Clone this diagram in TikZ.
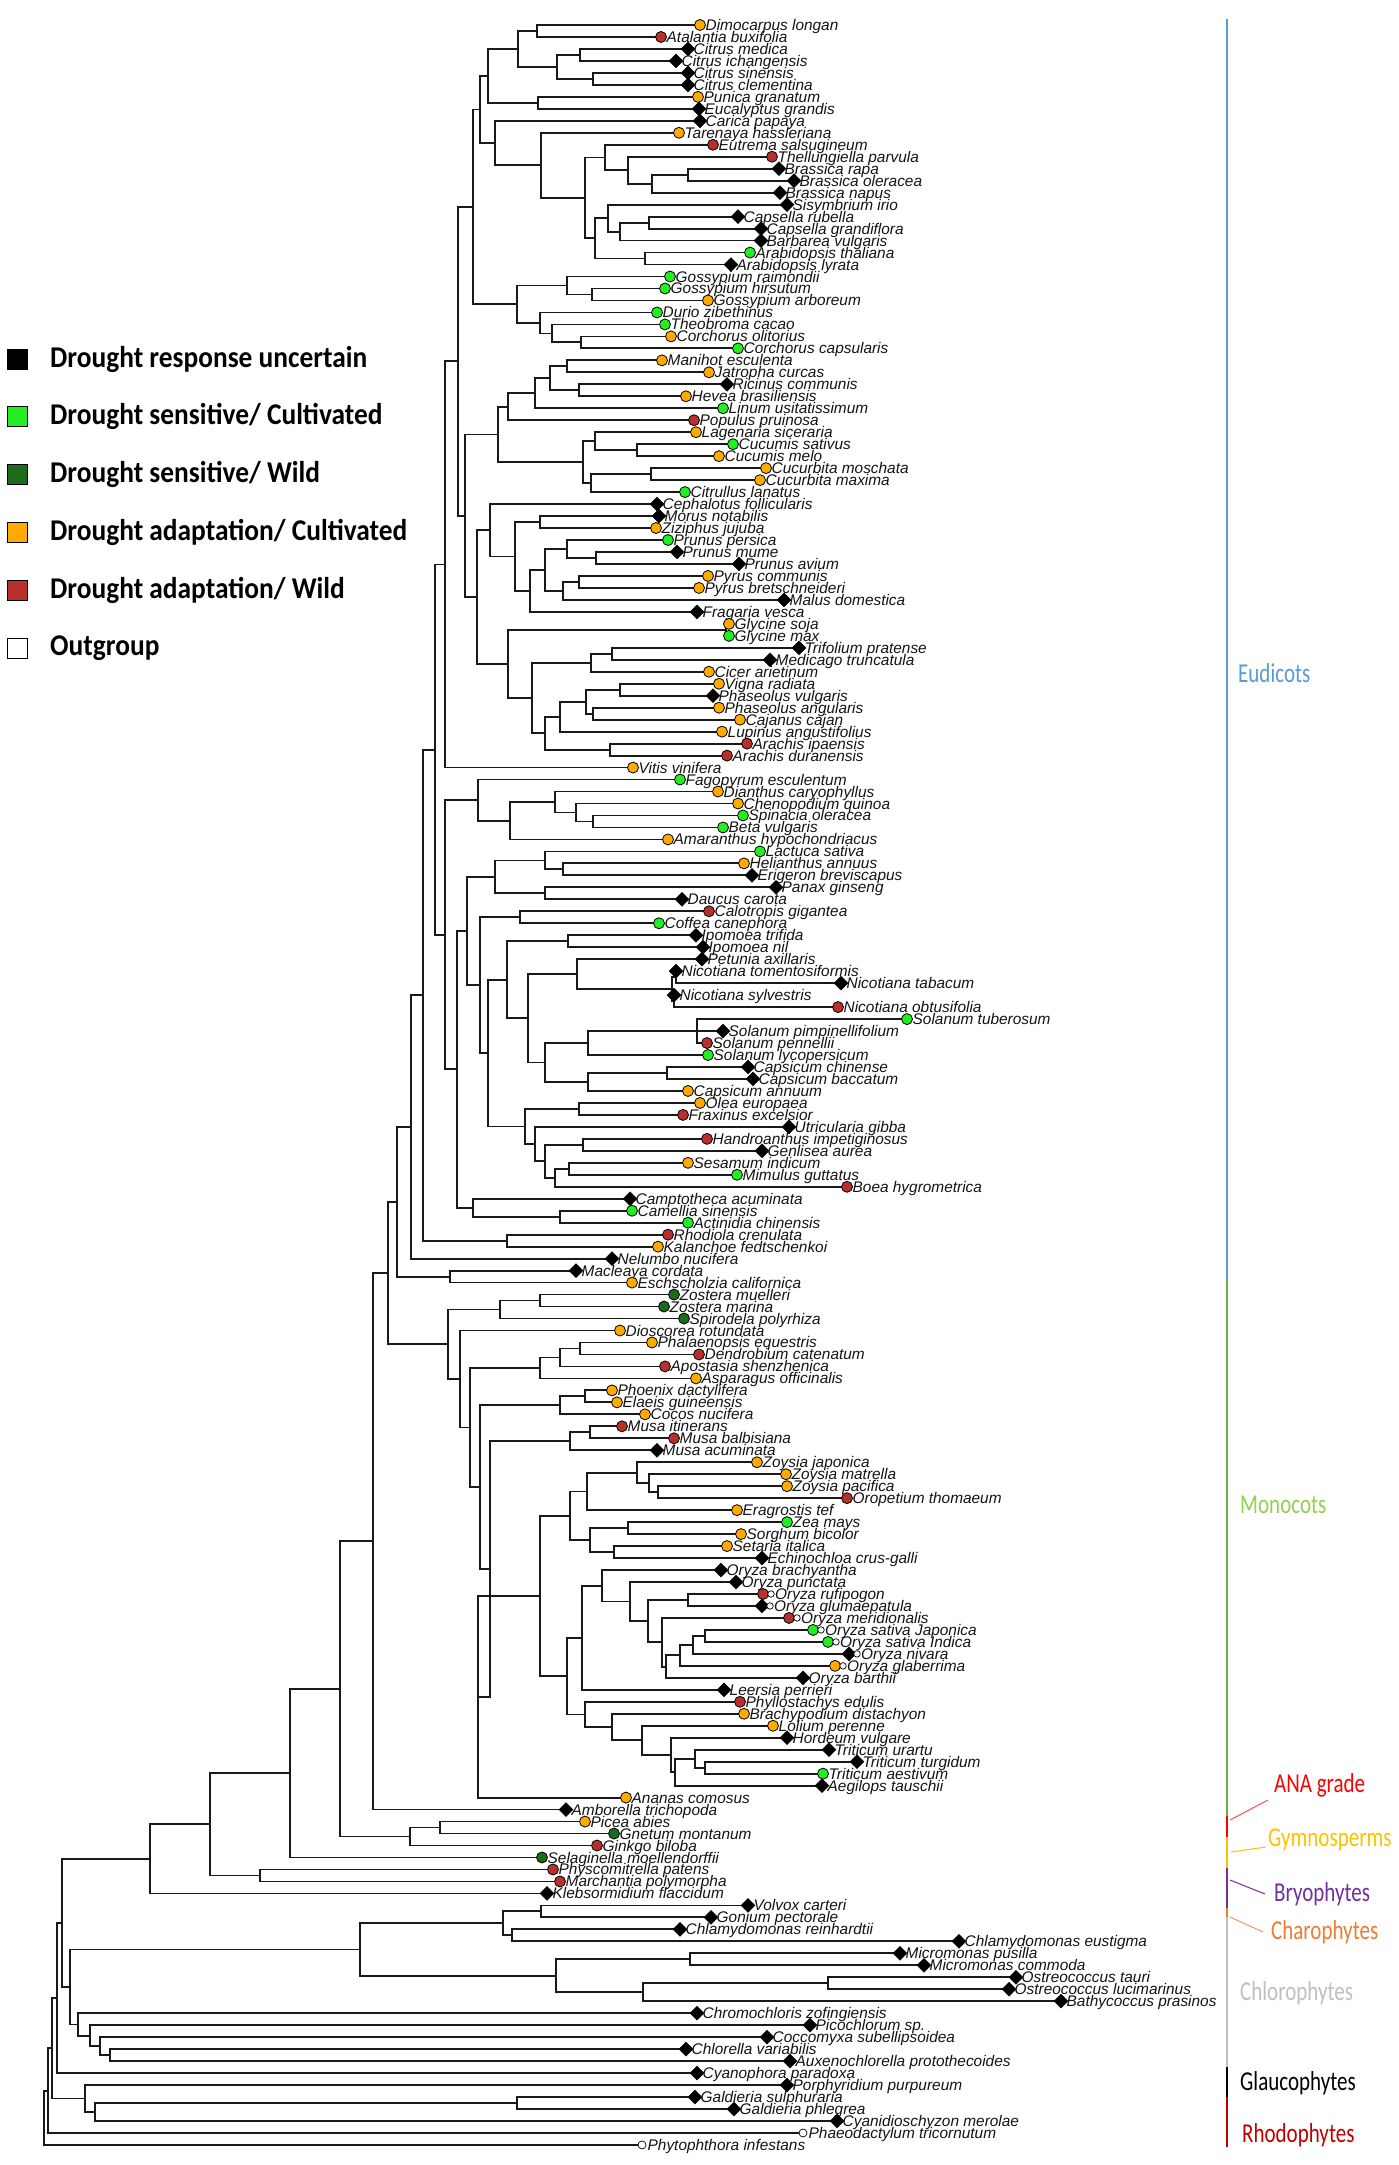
\documentclass[tikz,border=0pt]{standalone}
\usepackage{fontspec}
\usepackage{graphicx}
\usetikzlibrary{calc,shapes.geometric}
\newfontfamily\leaffont{Liberation Sans}
\newfontfamily\calib{Carlito}
\definecolor{cG}{HTML}{22EE22}
\definecolor{cD}{HTML}{1B6B1B}
\definecolor{cO}{HTML}{FFAA00}
\definecolor{cR}{HTML}{B8302B}
\definecolor{eud}{HTML}{5B9BD5}
\definecolor{monl}{HTML}{70AD47}
\definecolor{mont}{HTML}{92D050}
\definecolor{gym}{HTML}{FFC000}
\definecolor{bry}{HTML}{7030A0}
\definecolor{cha}{HTML}{ED7D31}
\definecolor{chl}{HTML}{BFBFBF}
\definecolor{rho}{HTML}{C00000}
\definecolor{ana}{HTML}{FF0000}
\tikzset{
 br/.style={line width=1.8pt, draw=black!90},
 mkb/.style={diamond, draw=black, fill=black, inner sep=0pt, minimum width=14pt, minimum height=14pt, line width=0.5pt},
 mkc/.style={circle, draw=black, inner sep=0pt, minimum size=11pt, line width=0.8pt},
 mkw/.style={circle, draw=black, fill=white, inner sep=0pt, minimum size=6.5pt, line width=0.7pt},
 lab/.style={anchor=base west, inner sep=0pt, font=\leaffont\itshape\fontsize{15.4}{16}\selectfont, text=black!92},
 legsq/.style={draw=black, line width=0.8pt, minimum size=20pt, inner sep=0pt},
 legtx/.style={anchor=west, inner sep=0pt, font=\calib\bfseries\fontsize{27.4}{30}\selectfont},
 grp/.style={anchor=west, inner sep=0pt, font=\calib\fontsize{21}{24}\selectfont},
 bar/.style={line width=2.2pt},
 lead/.style={line width=1pt},
}
\newcommand\mkclade[4]{%
  \coordinate (tmpm) at ($(#3)!0.5!(#4)$);%
  \coordinate (#1) at (#2,0 |- tmpm);%
  \draw[br] (#1) |- (#3);%
  \draw[br] (#1) |- (#4);}
\newcommand\mkcladeT[5]{%
  \coordinate (tmpm) at ($0.3333*(#3)+0.3333*(#4)+0.3334*(#5)$);%
  \coordinate (#1) at (#2,0 |- tmpm);%
  \draw[br] (#1) |- (#3);%
  \draw[br] (#1) |- (#4);%
  \draw[br] (#1) |- (#5);}
\def\leaflist{Dimocarpus longan/700/3,
Atalantia buxifolia/661/4,
Citrus medica/688/0,
Citrus ichangensis/676/0,
Citrus sinensis/688/0,
Citrus clementina/688/0,
Punica granatum/698/3,
Eucalyptus grandis/699/0,
Carica papaya/700/0,
Tarenaya hassleriana/679/3,
Eutrema salsugineum/713/4,
Thellungiella parvula/772/4,
Brassica rapa/779/0,
Brassica oleracea/794/0,
Brassica napus/780/0,
Sisymbrium irio/787/0,
Capsella rubella/738/0,
Capsella grandiflora/761/0,
Barbarea vulgaris/761/0,
Arabidopsis thaliana/750/1,
Arabidopsis lyrata/731/0,
Gossypium raimondii/670/1,
Gossypium hirsutum/665/1,
Gossypium arboreum/708/3,
Durio zibethinus/657/1,
Theobroma cacao/665/1,
Corchorus olitorius/671/3,
Corchorus capsularis/738/1,
Manihot esculenta/662/3,
Jatropha curcas/709/3,
Ricinus communis/727/0,
Hevea brasiliensis/686/3,
Linum usitatissimum/723/1,
Populus pruinosa/694/4,
Lagenaria siceraria/696/3,
Cucumis sativus/733/1,
Cucumis melo/719/3,
Cucurbita moschata/766/3,
Cucurbita maxima/760/3,
Citrullus lanatus/685/1,
Cephalotus follicularis/657/0,
Morus notabilis/659/0,
Ziziphus jujuba/656/3,
Prunus persica/668/1,
Prunus mume/677/0,
Prunus avium/739/0,
Pyrus communis/708/3,
Pyrus bretschneideri/699/3,
Malus domestica/784/0,
Fragaria vesca/697/0,
Glycine soja/729/3,
Glycine max/729/1,
Trifolium pratense/799/0,
Medicago truncatula/770/0,
Cicer arietinum/709/3,
Vigna radiata/719/3,
Phaseolus vulgaris/713/0,
Phaseolus angularis/719/3,
Cajanus cajan/740/3,
Lupinus angustifolius/722/3,
Arachis ipaensis/747/4,
Arachis duranensis/727/4,
Vitis vinifera/633/3,
Fagopyrum esculentum/680/1,
Dianthus caryophyllus/718/3,
Chenopodium quinoa/738/3,
Spinacia oleracea/743/1,
Beta vulgaris/723/1,
Amaranthus hypochondriacus/668/3,
Lactuca sativa/760/1,
Helianthus annuus/744/3,
Erigeron breviscapus/752/0,
Panax ginseng/776/0,
Daucus carota/682/0,
Calotropis gigantea/709/4,
Coffea canephora/659/1,
Ipomoea trifida/696/0,
Ipomoea nil/703/0,
Petunia axillaris/702/0,
Nicotiana tomentosiformis/676/0,
Nicotiana tabacum/841/0,
Nicotiana sylvestris/674/0,
Nicotiana obtusifolia/838/4,
Solanum tuberosum/907/1,
Solanum pimpinellifolium/723/0,
Solanum pennellii/707/4,
Solanum lycopersicum/708/1,
Capsicum chinense/748/0,
Capsicum baccatum/753/0,
Capsicum annuum/688/3,
Olea europaea/700/3,
Fraxinus excelsior/683/4,
Utricularia gibba/789/0,
Handroanthus impetiginosus/707/4,
Genlisea aurea/762/0,
Sesamum indicum/688/3,
Mimulus guttatus/737/1,
Boea hygrometrica/847/4,
Camptotheca acuminata/630/0,
Camellia sinensis/632/1,
Actinidia chinensis/688/1,
Rhodiola crenulata/668/4,
Kalanchoe fedtschenkoi/658/3,
Nelumbo nucifera/612/0,
Macleaya cordata/576/0,
Eschscholzia californica/632/3,
Zostera muelleri/674/2,
Zostera marina/664/2,
Spirodela polyrhiza/684/2,
Dioscorea rotundata/620/3,
Phalaenopsis equestris/652/3,
Dendrobium catenatum/699/4,
Apostasia shenzhenica/665/4,
Asparagus officinalis/696/3,
Phoenix dactylifera/612/3,
Elaeis guineensis/617/3,
Cocos nucifera/645/3,
Musa itinerans/622/4,
Musa balbisiana/674/4,
Musa acuminata/657/0,
Zoysia japonica/757/3,
Zoysia matrella/786/3,
Zoysia pacifica/787/3,
Oropetium thomaeum/847/4,
Eragrostis tef/737/3,
Zea mays/787/1,
Sorghum bicolor/741/3,
Setaria italica/727/3,
Echinochloa crus-galli/762/0,
Oryza brachyantha/721/0,
Oryza punctata/736/0,
Oryza rufipogon/763/6,
Oryza glumaepatula/762/7,
Oryza meridionalis/789/6,
Oryza sativa Japonica/813/8,
Oryza sativa Indica/828/8,
Oryza nivara/849/7,
Oryza glaberrima/835/9,
Oryza barthii/803/0,
Leersia perrieri/724/0,
Phyllostachys edulis/740/4,
Brachypodium distachyon/744/3,
Lolium perenne/773/3,
Hordeum vulgare/787/0,
Triticum urartu/829/0,
Triticum turgidum/857/0,
Triticum aestivum/823/1,
Aegilops tauschii/822/0,
Ananas comosus/626/3,
Amborella trichopoda/566/0,
Picea abies/585/3,
Gnetum montanum/614/2,
Ginkgo biloba/597/4,
Selaginella moellendorffii/542/2,
Physcomitrella patens/553/4,
Marchantia polymorpha/560/4,
Klebsormidium flaccidum/547/0,
Volvox carteri/748/0,
Gonium pectorale/711/0,
Chlamydomonas reinhardtii/680/0,
Chlamydomonas eustigma/959/0,
Micromonas pusilla/900/0,
Micromonas commoda/924/0,
Ostreococcus tauri/1016/0,
Ostreococcus lucimarinus/1009/0,
Bathycoccus prasinos/1061/0,
Chromochloris zofingiensis/697/0,
Picochlorum sp./810/0,
Coccomyxa subellipsoidea/767/0,
Chlorella variabilis/686/0,
Auxenochlorella protothecoides/790/0,
Cyanophora paradoxa/697/0,
Porphyridium purpureum/787/0,
Galdieria sulphuraria/695/0,
Galdieria phlegrea/734/0,
Cyanidioschyzon merolae/837/0,
Phaeodactylum tricornutum/803/5,
Phytophthora infestans/642/5}
\begin{document}
\begin{tikzpicture}[x=1pt,y=-1pt]
\fill[white] (0,0) rectangle (1399,2165);
\useasboundingbox (0,0) rectangle (1399,2165);
% leaf positions
\foreach \nm/\xx/\cc [count=\i] in \leaflist {
  \coordinate (l\i) at (\xx,{13.02+11.977*\i});
}
% ---- rosids: malvids
\mkclade{n1}{580}{l3}{l4}
\mkclade{n2}{593}{l5}{l6}
\mkclade{n3}{557}{n1}{n2}
\mkclade{n4}{537}{l1}{l2}
\mkclade{n5}{518}{n4}{n3}
\mkclade{n6}{538}{l7}{l8}
\mkclade{n7}{688}{l13}{l14}
\mkclade{n8}{652}{n7}{l15}
\mkclade{n9}{628}{l12}{n8}
\mkclade{n10}{605}{l11}{n9}
\mkclade{n11}{649}{l17}{l18}
\mkclade{n12}{620}{n11}{l19}
\mkclade{n13}{608}{l16}{n12}
\mkclade{n14}{645}{l20}{l21}
\mkclade{n15}{595}{n13}{n14}
\mkclade{n16}{585}{n10}{n15}
\mkclade{n17}{541}{l10}{n16}
\mkclade{n18}{495}{l9}{n17}
\mkclade{n19}{592}{l23}{l24}
\mkclade{n20}{567}{l22}{n19}
\mkclade{n21}{581}{l27}{l28}
\mkclade{n22}{552}{l26}{n21}
\mkclade{n23}{540}{l25}{n22}
\mkclade{n24}{517}{n20}{n23}
\mkclade{n25}{488}{n5}{n6}
\mkclade{n26}{480}{n25}{n18}
\mkclade{n27}{473}{n26}{n24}
% ---- fabids
\mkclade{n28}{567}{l29}{l30}
\mkclade{n29}{579}{l31}{l32}
\mkclade{n30}{550}{n28}{n29}
\mkclade{n31}{535}{n30}{l33}
\mkclade{n32}{508}{n31}{l34}
\mkclade{n33}{637}{l36}{l37}
\mkclade{n34}{595}{l35}{n33}
\mkclade{n35}{651}{l38}{l39}
\mkclade{n36}{591}{n35}{l40}
\mkclade{n37}{583}{n34}{n36}
\mkclade{n38}{596}{l45}{l46}
\mkclade{n39}{567}{l44}{n38}
\mkclade{n40}{579}{l47}{l48}
\mkclade{n41}{563}{n40}{l49}
\mkclade{n42}{545}{n39}{n41}
\mkclade{n43}{530}{n42}{l50}
\mkclade{n44}{540}{l42}{l43}
\mkclade{n45}{515}{n44}{n43}
\mkclade{n46}{490}{l41}{n45}
\mkclade{n47}{498}{n32}{n37}
\mkclade{n48}{726}{l51}{l52}
\mkclade{n49}{612}{l53}{l54}
\mkclade{n50}{591}{n49}{l55}
\mkclade{n51}{620}{l56}{l57}
\mkclade{n52}{593}{l58}{l59}
\mkclade{n53}{586}{n51}{n52}
\mkclade{n54}{610}{l61}{l62}
\mkclade{n55}{560}{n53}{l60}
\mkclade{n56}{545}{n55}{n54}
\mkclade{n57}{532}{n50}{n56}
\mkclade{n58}{508}{n48}{n57}
\mkclade{n60}{477}{n46}{n58}
\mkclade{n61}{465}{n47}{n60}
\mkclade{n62}{458}{n27}{n61}
\mkclade{n63}{445}{n62}{l63}
% ---- Caryophyllales + asterids
\mkclade{n64}{593}{l67}{l68}
\mkclade{n65}{576}{l66}{n64}
\mkclade{n66}{555}{l65}{n65}
\mkclade{n67}{510}{n66}{l69}
\mkclade{n68}{478}{l64}{n67}
\mkclade{n69}{563}{l71}{l72}
\mkclade{n70}{545}{l70}{n69}
\mkclade{n71}{545}{l73}{l74}
\mkclade{n72}{495}{n70}{n71}
\mkclade{n73}{520}{l75}{l76}
\mkclade{n74}{568}{l77}{l78}
\mkclade{n75}{676}{l80}{l81}
\mkclade{n76}{674}{l82}{l83}
\mkclade{n77}{672}{n75}{n76}
\mkclade{n78}{577}{l79}{n77}
\mkcladeT{n79}{697}{l84}{l85}{l86}
\mkclade{n80}{588}{n79}{l87}
\mkclade{n81}{667}{l88}{l89}
\mkclade{n82}{588}{n81}{l90}
\mkclade{n83}{545}{n80}{n82}
\mkclade{n84}{528}{n78}{n83}
\mkclade{n85}{507}{n74}{n84}
\mkclade{n86}{579}{l91}{l92}
\mkclade{n87}{583}{l94}{l95}
\mkclade{n88}{569}{l96}{l97}
\mkclade{n89}{555}{n88}{l98}
\mkclade{n90}{545}{n87}{n89}
\mkclade{n91}{535}{l93}{n90}
\mkclade{n92}{525}{n86}{n91}
\mkclade{n93}{488}{n85}{n92}
\mkclade{n94}{480}{n73}{n93}
\mkclade{n95}{467}{n72}{n94}
\mkclade{n96}{560}{l100}{l101}
\mkclade{n97}{473}{l99}{n96}
\mkclade{n98}{457}{n95}{n97}
\mkclade{n99}{445}{n68}{n98}
\mkclade{n100}{435}{n63}{n99}
\mkclade{n101}{507}{l102}{l103}
\mkclade{n102}{423}{n100}{n101}
\mkclade{n103}{411}{n102}{l104}
\mkclade{n104}{450}{l105}{l106}
\mkclade{n105}{397}{n103}{n104}
% ---- monocots
\mkclade{m1}{540}{l107}{l108}
\mkclade{m2}{500}{m1}{l109}
\mkclade{m3}{580}{l111}{l112}
\mkclade{m4}{560}{m3}{l113}
\mkclade{m5}{540}{m4}{l114}
\mkclade{m6}{585}{l115}{l116}
\mkclade{m7}{560}{m6}{l117}
\mkclade{m8}{590}{l118}{l119}
\mkclade{m9}{570}{m8}{l120}
\mkclade{z1}{658}{l123}{l124}
\mkclade{z2}{649}{l122}{z1}
\mkclade{z3}{637}{l121}{z2}
\mkclade{z4}{587}{z3}{l125}
\mkclade{p1}{628}{l126}{l127}
\mkclade{p2}{614}{l128}{l129}
\mkclade{p3}{590}{p1}{p2}
\mkclade{p4}{570}{z4}{p3}
\mkclade{o1}{688}{l132}{l133}
\mkclade{o2}{705}{l135}{l136}
\mkclade{o3}{693}{o2}{l137}
\mkclade{o4}{680}{o3}{l138}
\mkclade{o5}{666}{o4}{l139}
\mkclade{o6}{662}{l134}{o5}
\mkclade{o7}{648}{o1}{o6}
\mkclade{o8}{630}{l131}{o7}
\mkclade{o9}{602}{l130}{o8}
\mkclade{o10}{582}{o9}{l140}
\mkclade{t1}{705}{l146}{l147}
\mkclade{t2}{695}{l145}{t1}
\mkclade{t3}{675}{t2}{l148}
\mkclade{t4}{671}{l144}{t3}
\mkclade{t5}{642}{l143}{t4}
\mkclade{t6}{612}{l142}{t5}
\mkclade{t7}{585}{l141}{t6}
\mkclade{b1}{567}{o10}{t7}
\mkclade{g1}{540}{p4}{b1}
\mkclade{g2}{478}{g1}{l149}
\mkclade{m10}{490}{m9}{g2}
\mkclade{m11}{480}{m7}{m10}
\mkclade{m12}{470}{m5}{m11}
\mkclade{m13}{460}{l110}{m12}
\mkclade{m14}{448}{m2}{m13}
% ---- backbone
\mkclade{meso}{388}{n105}{m14}
\mkclade{angio}{373}{meso}{l150}
\mkclade{gy1}{440}{l151}{l152}
\mkclade{gy2}{410}{gy1}{l153}
\mkclade{seed}{340}{angio}{gy2}
\mkclade{vasc}{290}{seed}{l154}
\mkclade{bryo}{260}{l155}{l156}
\mkclade{emb}{210}{vasc}{bryo}
\mkclade{strep}{150}{emb}{l157}
\mkclade{c1}{541}{l158}{l159}
\mkclade{c2}{512}{l160}{l161}
\mkclade{c3}{503}{c1}{c2}
\mkclade{mm1}{690}{l162}{l163}
\mkclade{mm2}{828}{l164}{l165}
\mkclade{mm3}{643}{mm2}{l166}
\mkclade{mm4}{556}{mm1}{mm3}
\mkclade{c4}{360}{c3}{mm4}
\mkclade{tr1}{110}{l170}{l171}
\mkclade{tr2}{100}{l169}{tr1}
\mkclade{tr3}{90}{l168}{tr2}
\mkclade{tr4}{78}{l167}{tr3}
\mkclade{chloro}{70}{c4}{tr4}
\mkclade{virid}{62}{strep}{chloro}
\mkclade{plA}{57}{virid}{l172}
\mkclade{r1}{517}{l174}{l175}
\mkclade{r2}{95}{r1}{l176}
\mkclade{r3}{85}{l173}{r2}
\mkclade{plB}{52}{plA}{r3}
\mkclade{plC}{48}{plB}{l177}
\mkclade{root}{44}{plC}{l178}
% ---- markers and labels
\foreach \nm/\xx/\cc [count=\i] in \leaflist {
  \def\lx{5.5}
  \ifcase\cc
    \node[mkb] (m\i) at (l\i) {};
  \or \node[mkc,fill=cG] (m\i) at (l\i) {};
  \or \node[mkc,fill=cD] (m\i) at (l\i) {};
  \or \node[mkc,fill=cO] (m\i) at (l\i) {};
  \or \node[mkc,fill=cR] (m\i) at (l\i) {};
  \or \node[mkw,minimum size=8pt] (m\i) at (l\i) {};
  \or \node[mkc,fill=cR] (m\i) at (l\i) {}; \node[mkw] (w\i) at ($(l\i)+(8,0)$) {}; \def\lx{12}
  \or \node[mkb] (m\i) at (l\i) {}; \node[mkw] (w\i) at ($(l\i)+(8,0)$) {}; \def\lx{12}
  \or \node[mkc,fill=cG] (m\i) at (l\i) {}; \node[mkw] (w\i) at ($(l\i)+(8,0)$) {}; \def\lx{12}
  \or \node[mkc,fill=cO] (m\i) at (l\i) {}; \node[mkw] (w\i) at ($(l\i)+(8,0)$) {}; \def\lx{12}
  \fi
  \node[lab] (t\i) at ($(l\i)+(\lx,5.5)$) {\nm};
}
% ---- group bar
\draw[bar,eud] (1227,19) -- (1227,1279);
\draw[bar,monl] (1227,1279) -- (1227,1816);
\draw[bar,ana] (1227,1816) -- (1227,1837);
\draw[bar,gym] (1227,1837) -- (1227,1868);
\draw[bar,bry] (1227,1868) -- (1227,1908);
\draw[bar,cha] (1227,1908) -- (1227,1917);
\draw[bar,chl] (1227,1917) -- (1227,2067);
\draw[bar,black] (1227,2067) -- (1227,2097);
\draw[bar,rho] (1227,2097) -- (1227,2147);
\node[grp,text=eud] (gEud) at (1238,673) {\scalebox{1}[1.3]{Eudicots}};
\node[grp,text=mont] (gMon) at (1240,1505) {\scalebox{1}[1.3]{Monocots}};
\node[grp,text=ana] (gAna) at (1274,1785) {\scalebox{1}[1.3]{ANA grade}};
\node[grp,text=gym] (gGym) at (1268,1840) {\scalebox{1}[1.3]{Gymnosperms}};
\node[grp,text=bry] (gBry) at (1274,1894) {\scalebox{1}[1.3]{Bryophytes}};
\node[grp,text=cha] (gCha) at (1271,1932) {\scalebox{1}[1.3]{Charophytes}};
\node[grp,text=chl] (gChl) at (1240,1993) {\scalebox{1}[1.3]{Chlorophytes}};
\node[grp,text=black] (gGla) at (1240,2083) {\scalebox{1}[1.3]{Glaucophytes}};
\node[grp,text=rho] (gRho) at (1242,2135) {\scalebox{1}[1.3]{Rhodophytes}};
\coordinate (aA) at (1230,1820); \coordinate (aB) at (1268,1800);
\coordinate (yA) at (1231,1852); \coordinate (yB) at (1266,1847);
\coordinate (pA) at (1230,1880); \coordinate (pB) at (1265,1894);
\coordinate (oA) at (1230,1917); \coordinate (oB) at (1263,1932);
\draw[lead,ana!70] (aA) -- (aB);
\draw[lead,gym] (yA) -- (yB);
\draw[lead,bry] (pA) -- (pB);
\draw[lead,cha!80] (oA) -- (oB);
% ---- legend
\node[legsq,fill=black] (q1) at (17,359) {};
\node[legsq,fill=cG] (q2) at (17,416) {};
\node[legsq,fill=cD] (q3) at (17,474) {};
\node[legsq,fill=cO] (q4) at (17,532) {};
\node[legsq,fill=cR] (q5) at (17,590) {};
\node[legsq,fill=white] (q6) at (17,648) {};
\node[legtx] (e1) at (50,359) {\scalebox{1}[1.1]{Drought response uncertain}};
\node[legtx] (e2) at (50,416) {\scalebox{1}[1.1]{Drought sensitive/ Cultivated}};
\node[legtx] (e3) at (50,474) {\scalebox{1}[1.1]{Drought sensitive/ Wild}};
\node[legtx] (e4) at (50,532) {\scalebox{1}[1.1]{Drought adaptation/ Cultivated}};
\node[legtx] (e5) at (50,590) {\scalebox{1}[1.1]{Drought adaptation/ Wild}};
\node[legtx] (e6) at (50,648) {\scalebox{1}[1.1]{Outgroup}};
\end{tikzpicture}
\end{document}
